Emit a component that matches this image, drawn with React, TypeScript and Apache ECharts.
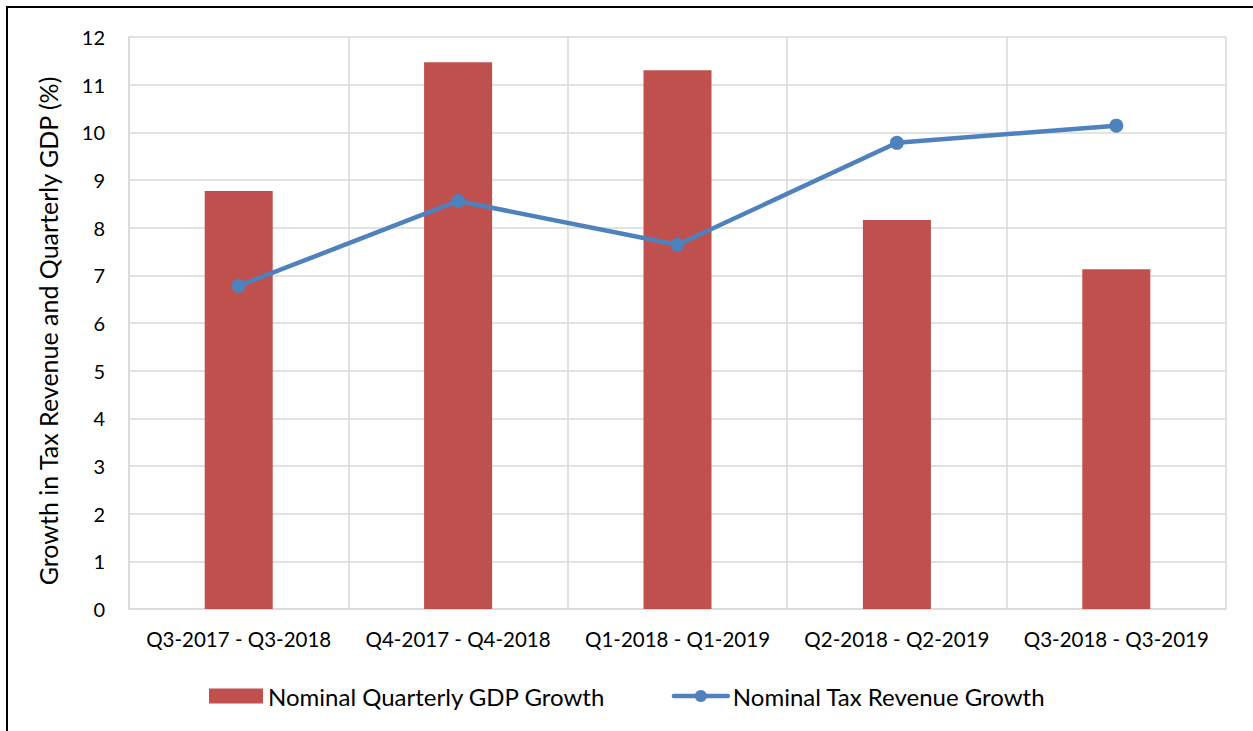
import React, { useEffect, useRef } from "react";
import * as echarts from "echarts";

const categories = [
  "Q3-2017 - Q3-2018",
  "Q4-2017 - Q4-2018",
  "Q1-2018 - Q1-2019",
  "Q2-2018 - Q2-2019",
  "Q3-2018 - Q3-2019",
];
const gdpGrowth = [8.77, 11.47, 11.3, 8.16, 7.13];
const taxGrowth = [6.78, 8.56, 7.64, 9.78, 10.14];
const yTicks = { min: 0, max: 12, interval: 1 };
const yTitle = "Growth in Tax Revenue and Quarterly GDP (%)";

const FONT = "Lato, 'Open Sans', sans-serif";

export default function App() {
  const ref = useRef<HTMLDivElement>(null);
  useEffect(() => {
    const chart = echarts.init(ref.current!, null, { renderer: "svg" });
    chart.setOption({
      animation: false,
      textStyle: { fontFamily: FONT },
      graphic: [
        {
          type: "rect",
          shape: { x: 7, y: 7, width: 1300, height: 800 },
          style: { fill: "none", stroke: "#000", lineWidth: 2 },
          silent: true,
        },
        {
          type: "text",
          x: 48,
          y: 331,
          rotation: Math.PI / 2,
          style: {
            text: yTitle,
            fontSize: 25,
            fontFamily: FONT,
            fill: "#000",
            align: "center",
            verticalAlign: "middle",
          },
          silent: true,
        },
      ],
      grid: { left: 129, right: 27, top: 37, bottom: 122 },
      legend: {
        left: 209,
        top: 684,
        padding: 0,
        itemWidth: 54,
        itemHeight: 15,
        itemGap: 66,
        textStyle: { fontSize: 24, color: "#000", fontFamily: FONT },
        data: [
          { name: "Nominal Quarterly GDP Growth", icon: "rect" },
          { name: "Nominal Tax Revenue Growth", lineStyle: { width: 4.5, cap: "round" } },
        ],
      },
      xAxis: {
        type: "category",
        data: categories,
        boundaryGap: true,
        axisLine: { lineStyle: { color: "#D9D9D9", width: 1.5 } },
        axisTick: { show: false },
        splitLine: { show: true, interval: 0, lineStyle: { color: "#D9D9D9", width: 1.5 } },
        axisLabel: { color: "#000", fontSize: 20.5, margin: 19, interval: 0, fontFamily: FONT },
      },
      yAxis: {
        type: "value",
        min: yTicks.min,
        max: yTicks.max,
        interval: yTicks.interval,
        axisLine: { show: true, lineStyle: { color: "#D9D9D9", width: 1.5 } },
        axisTick: { show: false },
        splitLine: { show: true, lineStyle: { color: "#D9D9D9", width: 1.5 } },
        axisLabel: { color: "#000", fontSize: 20, margin: 24, fontFamily: FONT },
      },
      series: [
        {
          name: "Nominal Quarterly GDP Growth",
          type: "bar",
          data: gdpGrowth,
          barWidth: "31%",
          itemStyle: { color: "#C0504D" },
        },
        {
          name: "Nominal Tax Revenue Growth",
          type: "line",
          data: taxGrowth,
          symbol: "circle",
          symbolSize: 14,
          lineStyle: { color: "#4F81BD", width: 4.5 },
          itemStyle: { color: "#4F81BD" },
        },
      ],
    });
    return () => chart.dispose();
  }, []);
  return (
    <div
      ref={ref}
      style={{ position: "absolute", left: 0, top: 0, width: 1253, height: 731, background: "#fff" }}
    />
  );
}
